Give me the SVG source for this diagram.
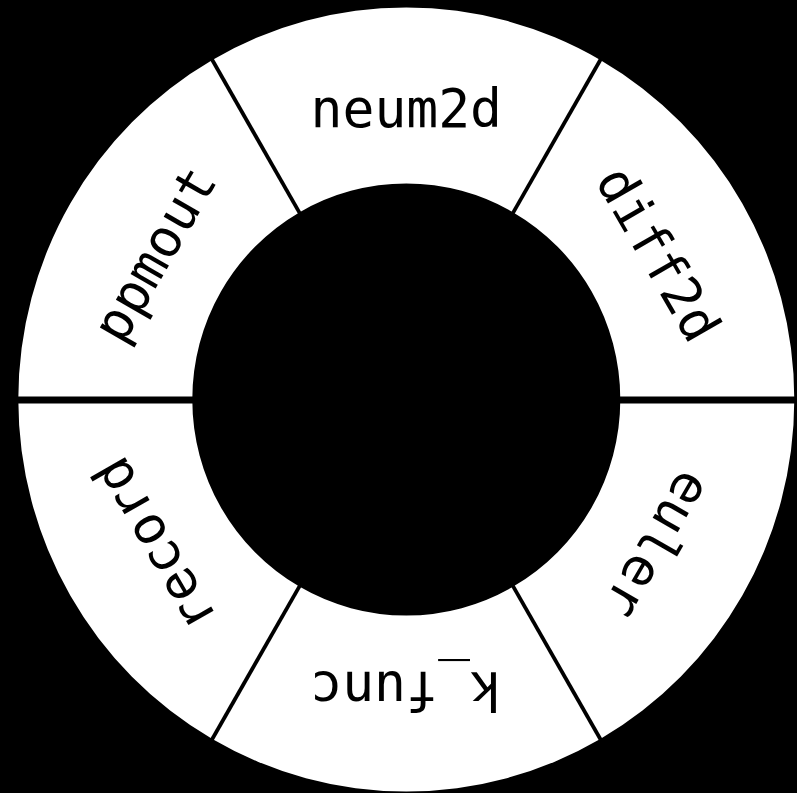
<svg xmlns="http://www.w3.org/2000/svg" width="797" height="793" viewBox="0 0 797 793">
  <style>
    .wedge { fill: #ffffff; stroke: none; }
    .lbl { font-family: "DejaVu Sans Mono", "Liberation Mono", monospace; font-size: 53px; fill: #000000; text-anchor: middle; }
    .div { stroke: #000000; stroke-linecap: butt; }
  </style>
  <rect x="0" y="0" width="797" height="793" fill="#000000"/>
  <g id="node-neum2d">
    <path class="wedge" d="M 212.3,60 A 388 392 0 0 1 600.3,60 L 513.3,212.4 A 214 216 0 0 0 299.3,212.4 Z"/>
    <text class="lbl" transform="translate(406.3,399.5) rotate(0) translate(0,-272.5)">neum2d</text>
  </g>
  <g id="node-diff2d">
    <path class="wedge" d="M 600.3,60 A 388 392 0 0 1 794.3,399.5 L 620.3,399.5 A 214 216 0 0 0 513.3,212.4 Z"/>
    <text class="lbl" transform="translate(406.3,399.5) rotate(60) translate(0,-272.5)">diff2d</text>
  </g>
  <g id="node-euler">
    <path class="wedge" d="M 794.3,399.5 A 388 392 0 0 1 600.3,739 L 513.3,586.6 A 214 216 0 0 0 620.3,399.5 Z"/>
    <text class="lbl" transform="translate(406.3,399.5) rotate(120) translate(0,-272.5)">euler</text>
  </g>
  <g id="node-k_func">
    <path class="wedge" d="M 600.3,739 A 388 392 0 0 1 212.3,739 L 299.3,586.6 A 214 216 0 0 0 513.3,586.6 Z"/>
    <text class="lbl" transform="translate(406.3,399.5) rotate(180) translate(0,-272.5)">k_func</text>
  </g>
  <g id="node-record">
    <path class="wedge" d="M 212.3,739 A 388 392 0 0 1 18.3,399.5 L 192.3,399.5 A 214 216 0 0 0 299.3,586.6 Z"/>
    <text class="lbl" transform="translate(406.3,399.5) rotate(240) translate(0,-272.5)">record</text>
  </g>
  <g id="node-ppmout">
    <path class="wedge" d="M 18.3,399.5 A 388 392 0 0 1 212.3,60 L 299.3,212.4 A 214 216 0 0 0 192.3,399.5 Z"/>
    <text class="lbl" transform="translate(406.3,399.5) rotate(300) translate(0,-272.5)">ppmout</text>
  </g>
  <g id="connectors">
    <line class="div" x1="10" y1="400" x2="194" y2="400" stroke-width="7"/>
    <line class="div" x1="618" y1="400" x2="797" y2="400" stroke-width="7"/>
    <line class="div" x1="211.3" y1="58.3" x2="300.3" y2="214.1" stroke-width="3.8"/>
    <line class="div" x1="601.3" y1="58.3" x2="512.3" y2="214.1" stroke-width="3.8"/>
    <line class="div" x1="211.3" y1="740.7" x2="300.3" y2="584.9" stroke-width="3.8"/>
    <line class="div" x1="601.3" y1="740.7" x2="512.3" y2="584.9" stroke-width="3.8"/>
  </g>
</svg>
